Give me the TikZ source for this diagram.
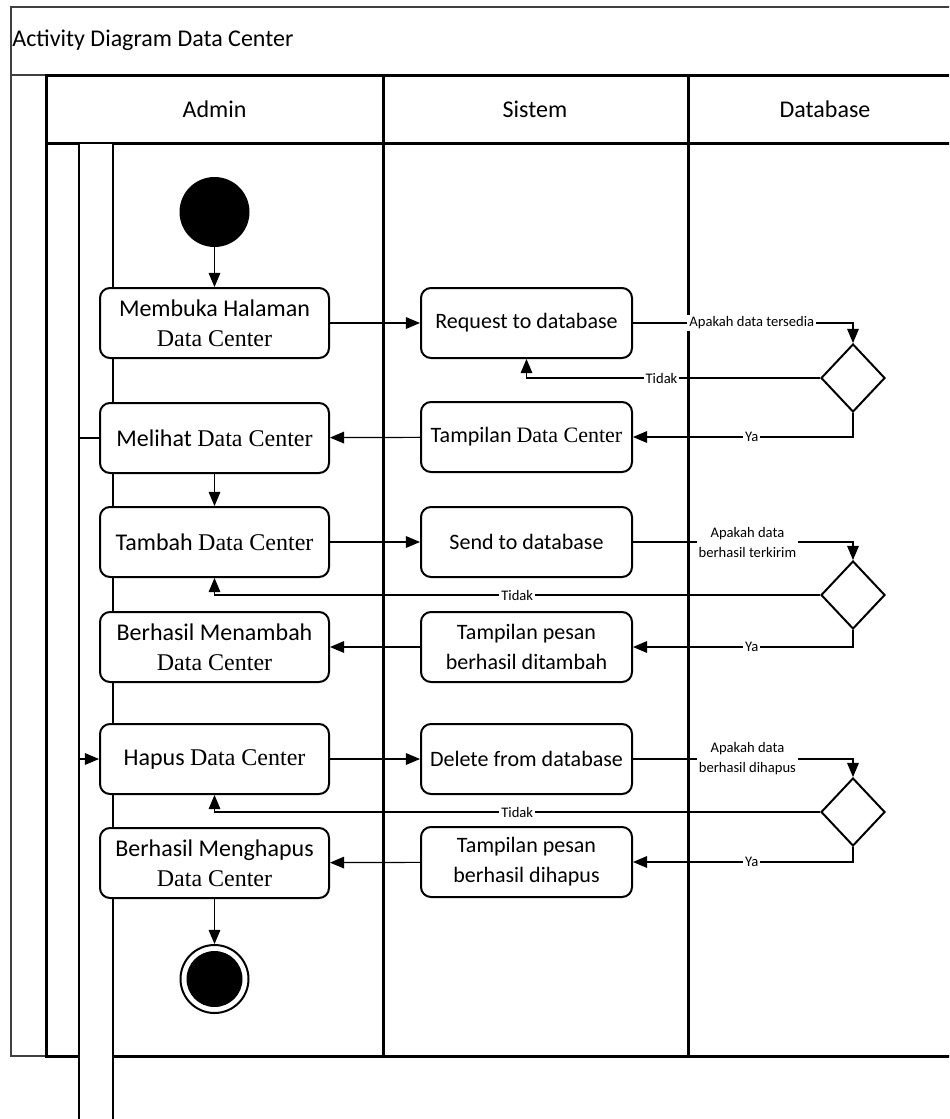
\documentclass[tikz,border=0pt]{standalone}
\usepackage{fontspec}
\setmainfont{Carlito}
\newfontfamily\tnr{Liberation Serif}
\usetikzlibrary{arrows,shapes.geometric}

\begin{document}
\begin{tikzpicture}[x=0.5pt,y=-0.5pt,
  act/.style={draw, line width=1pt, rounded corners=5pt, fill=white, align=center,
    minimum height=35pt, inner sep=2pt, font=\fontsize{11}{15}\selectfont},
  adm/.style={act, minimum width=114.5pt, font=\fontsize{12}{15}\selectfont},
  sys/.style={act, minimum width=105.5pt},
  choice/.style={diamond, draw, line width=1pt, fill=white, minimum width=32pt,
    minimum height=34pt, inner sep=0pt},
  flow/.style={line width=0.6pt, arrows={- triangle 45}},
  guard/.style={fill=white, inner sep=1pt, align=center, font=\fontsize{7.3}{10}\selectfont},
  lane/.style={line width=1.5pt},
  head/.style={font=\fontsize{12}{14}\selectfont}]

\clip (0,0) rectangle (949,1119);

% pool and lanes
\draw [line width=0.6pt, black!75] (11,7) rectangle (990,1056);
\draw [line width=0.6pt, black!75] (11,75) -- (46,75);
\node [head, anchor=west, inner sep=0pt] (title) at (12,40) {Activity Diagram Data Center};

\draw [lane] (46,75) rectangle (990,1056);
\draw [lane] (46,143) -- (990,143);
\draw [lane] (383,75) -- (383,1056);
\draw [lane] (688,75) -- (688,1056);
\node [head] (admin) at (214.5,109) {Admin};
\node [head] (sistem) at (535,109) {Sistem};
\node [head] (database) at (825,109) {Database};

\draw [line width=1.3pt, fill=white] (79,143) rectangle (113,1140);

% admin
\node [circle, fill=black, minimum size=35pt, inner sep=0pt] (start) at (214.5,212) {};
\node [adm] (membuka) at (214.5,323) {Membuka Halaman\\{\tnr Data Center}};
\node [adm] (melihat) at (214.5,438) {Melihat {\tnr Data Center}};
\node [adm] (tambah) at (214.5,542) {Tambah {\tnr Data Center}};
\node [adm] (menambah) at (214.5,647) {Berhasil Menambah\\{\tnr Data Center}};
\node [adm] (hapus) at (214.5,759) {Hapus {\tnr Data Center}};
\node [adm] (menghapus) at (214.5,863) {Berhasil Menghapus\\{\tnr Data Center}};
\node [circle, draw, line width=1pt, minimum size=34pt, inner sep=0pt,
  path picture={\fill (path picture bounding box.center) circle (14pt);}] (finish) at (214.5,979) {};

% sistem
\node [sys] (request) at (526.5,323) {Request to database};
\node [sys] (tampil) at (526.5,437) {Tampilan {\tnr Data Center}};
\node [sys] (send) at (526.5,542) {Send to database};
\node [sys] (pesantambah) at (526.5,647) {Tampilan pesan\\berhasil ditambah};
\node [sys] (delete) at (526.5,759) {Delete from database};
\node [sys] (pesanhapus) at (526.5,862) {Tampilan pesan\\berhasil dihapus};

% database
\node [choice] (d1) at (853,378) {};
\node [choice] (d2) at (853,595) {};
\node [choice] (d3) at (853,812) {};

\draw [flow] (start) -- (membuka);
\draw [flow] (membuka) -- (request);
\draw [flow] (request.east) -| node [guard, pos=0.27] {Apakah data tersedia} (d1.north);
\draw [flow] (d1.west) -| node [guard, pos=0.27] {Tidak} (request.south);
\draw [flow] (d1.south) |- node [guard, pos=0.73] {Ya} (tampil.east);
\draw [flow] (tampil) -- (melihat);
\draw [flow] (melihat) -- (tambah);

\draw [flow] (tambah) -- (send);
\draw [flow] (send.east) -| node [guard, pos=0.26] {Apakah data\\berhasil terkirim} (d2.north);
\draw [flow] (d2.west) -| node [guard, pos=0.25] {Tidak} (tambah.south);
\draw [flow] (d2.south) |- node [guard, pos=0.73] {Ya} (pesantambah.east);
\draw [flow] (pesantambah) -- (menambah);

\draw [flow] (melihat.west) -- ++(-20,0) |- (hapus.west);
\draw [flow] (hapus) -- (delete);
\draw [flow] (delete.east) -| node [guard, pos=0.26] {Apakah data\\berhasil dihapus} (d3.north);
\draw [flow] (d3.west) -| node [guard, pos=0.25] {Tidak} (hapus.south);
\draw [flow] (d3.south) |- node [guard, pos=0.73] {Ya} (pesanhapus.east);
\draw [flow] (pesanhapus) -- (menghapus);
\draw [flow] (menghapus) -- (finish);

\end{tikzpicture}
\end{document}
